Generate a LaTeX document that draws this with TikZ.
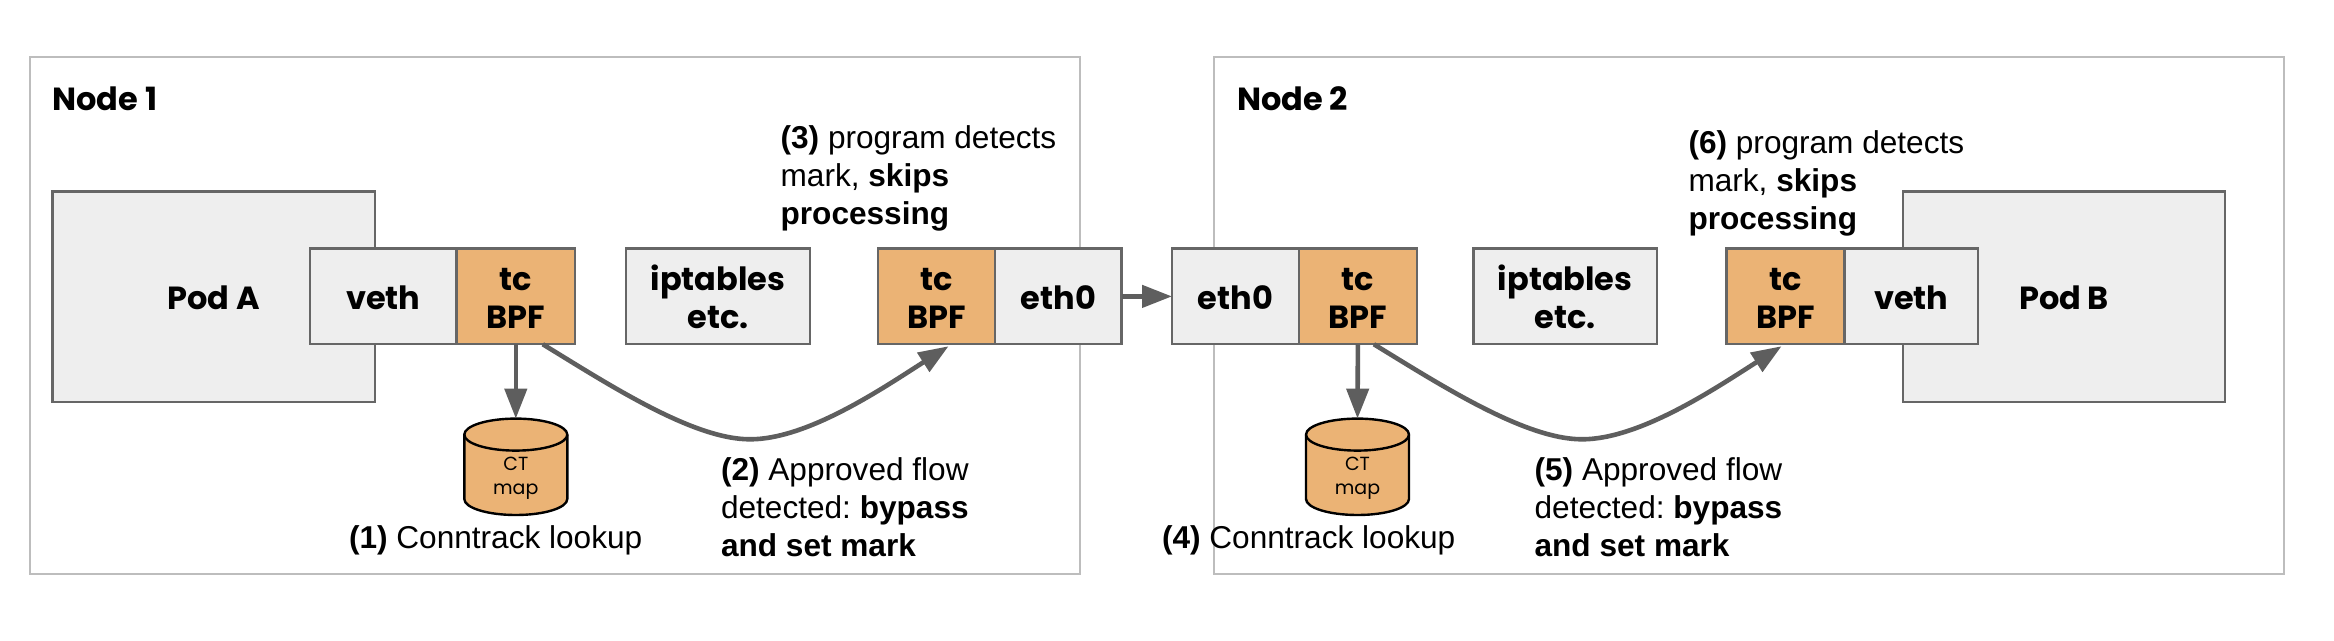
\documentclass[tikz,border=0pt]{standalone}
\usepackage{fontspec}
\setmainfont{Liberation Sans}
\newfontfamily\popfont{Poppins}
\usetikzlibrary{arrows.meta,calc}
\frenchspacing
\definecolor{boxfill}{HTML}{EEEEEE}
\definecolor{boxline}{HTML}{666666}
\definecolor{orangefill}{HTML}{EBB375}
\definecolor{nodeline}{HTML}{BDBDBD}
\definecolor{arrowcol}{HTML}{5E5E5E}
\newcommand{\ctcylinder}[2]{%
  \begin{scope}[shift={(#1,#2)}]
    \draw[ctshape] (-51.5,-32.2) -- (-51.5,32.2) arc[start angle=180,end angle=360,x radius=51.5pt,y radius=16pt]
      -- (51.5,-32.2) arc[start angle=0,end angle=180,x radius=51.5pt,y radius=16pt] -- cycle;
    \draw[ctshape,fill=none] (-51.5,-32.2) arc[start angle=180,end angle=360,x radius=51.5pt,y radius=16pt];
  \end{scope}}
\tikzset{
  every node/.style={inner sep=0pt,outer sep=0pt},
  hostbox/.style={draw=nodeline,line width=2.4pt,fill=white,rectangle},
  graybox/.style={draw=boxline,line width=2.4pt,fill=boxfill,rectangle,align=center,
    font=\popfont\bfseries\fontsize{32}{38}\selectfont,text height=26pt,text depth=0pt},
  orangebox/.style={graybox,fill=orangefill,text height=63.6pt},
  twolines/.style={text height=63.6pt},
  ctshape/.style={draw=black,line width=2.4pt,fill=orangefill},
  ctbody/.style={rectangle,minimum width=103pt,minimum height=96.4pt},
  cttext/.style={align=center,font=\popfont\fontsize{19}{24}\selectfont},
  hosttitle/.style={anchor=base west,font=\popfont\bfseries\fontsize{32}{38}\selectfont},
  note/.style={anchor=base west,align=left,font=\fontsize{31.6}{38}\selectfont},
  flow/.style={draw=arrowcol,line width=4.6pt,-{Triangle[length=30pt,width=22pt]}},
}
\begin{document}
\begin{tikzpicture}[x=1pt,y=-1pt]
\useasboundingbox (0,0) rectangle (2334,640);
% host frames
\node[hostbox,minimum width=1050pt,minimum height=517pt] (host1) at (555,315.5) {};
\node[hostbox,minimum width=1070pt,minimum height=517pt] (host2) at (1749,315.5) {};
\node[hosttitle] (title1) at (52.5,110) {Node 1};
\node[hosttitle] (title2) at (1237,110) {Node 2};
% pods
\node[graybox,minimum width=322.5pt,minimum height=210.4pt] (podA) at (213.7,296.6) {Pod A};
\node[graybox,minimum width=322pt,minimum height=210.4pt] (podB) at (2064,296.6) {Pod B};
% node 1 row
\node[graybox,minimum width=146.5pt,minimum height=95.7pt] (vethA) at (383.3,296.4) {veth};
\node[orangebox,minimum width=118.5pt,minimum height=95.7pt] (tcA) at (515.8,296.4) {tc\\BPF};
\node[graybox,twolines,minimum width=184pt,minimum height=95.7pt] (iptA) at (718,296.4) {iptables\\etc.};
\node[orangebox,minimum width=117pt,minimum height=95.7pt] (tcAout) at (936.5,296.4) {tc\\BPF};
\node[graybox,minimum width=126.6pt,minimum height=95.7pt] (ethA) at (1058.3,296.4) {eth0};
% node 2 row
\node[graybox,minimum width=127pt,minimum height=95.7pt] (ethB) at (1235.5,296.4) {eth0};
\node[orangebox,minimum width=117.7pt,minimum height=95.7pt] (tcB) at (1357.9,296.4) {tc\\BPF};
\node[graybox,twolines,minimum width=183.6pt,minimum height=95.7pt] (iptB) at (1565.2,296.4) {iptables\\etc.};
\node[orangebox,minimum width=118.3pt,minimum height=95.7pt] (tcBout) at (1785.5,296.4) {tc\\BPF};
\node[graybox,minimum width=133.3pt,minimum height=95.7pt] (vethB) at (1911.3,296.4) {veth};
% maps
\ctcylinder{515.8}{466.8}
\node[ctbody] (mapA) at (515.8,466.8) {};
\node[cttext] (mapAtext) at (515.8,478) {CT\\map};
\ctcylinder{1357.5}{466.8}
\node[ctbody] (mapB) at (1357.5,466.8) {};
\node[cttext] (mapBtext) at (1357.5,478) {CT\\map};
% connectors
\draw[flow] (tcA.south) -- (mapA.north);
\draw[flow] (tcB.south) -- (mapB.north);
\draw[flow] (ethA.east) -- (ethB.west);
\draw[flow] ($(tcA.south)+(27,0)$) .. controls +(67,41) and (693,439.3) .. (750,439.3)
   .. controls (808,439.3) and (883,388) .. ($(tcAout.south)+(12,2)$);
\draw[flow] ($(tcB.south)+(16,0)$) .. controls +(67,41) and (1525,439.3) .. (1582,439.3)
   .. controls (1640,439.3) and (1716,388) .. ($(tcBout.south)+(-4,2)$);
% notes
\node[note] (n1) at (349,548.5) {\textbf{(1)} Conntrack lookup};
\node[note] (n2) at (721,556) {\textbf{(2)} Approved flow\\detected: \textbf{bypass}\\\textbf{and set mark}};
\node[note] (n3) at (780.6,224.5) {\textbf{(3)} program detects\\mark, \textbf{skips}\\\textbf{processing}};
\node[note] (n4) at (1162,548.5) {\textbf{(4)} Conntrack lookup};
\node[note] (n5) at (1534.6,556) {\textbf{(5)} Approved flow\\detected: \textbf{bypass}\\\textbf{and set mark}};
\node[note] (n6) at (1688.5,229) {\textbf{(6)} program detects\\mark, \textbf{skips}\\\textbf{processing}};
\end{tikzpicture}
\end{document}
